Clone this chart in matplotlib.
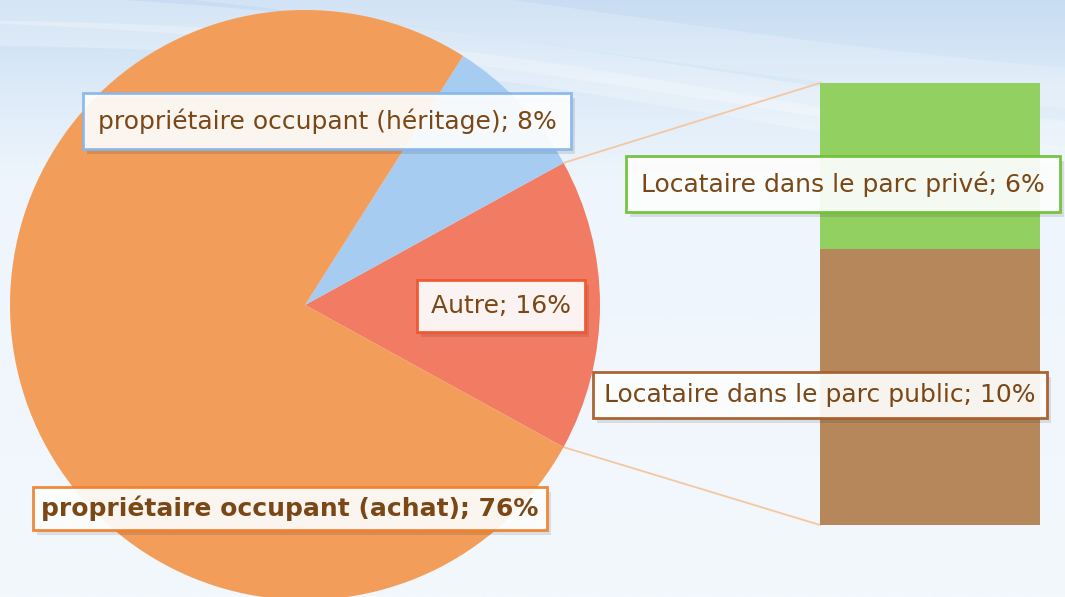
import numpy as np
import matplotlib
matplotlib.use('Agg')
import matplotlib.pyplot as plt
from matplotlib.colors import LinearSegmentedColormap

# pie data (Autre is exploded into the bar)
pie_labels = ["Autre", "propriétaire occupant (héritage)", "propriétaire occupant (achat)"]
pie_values = [16, 8, 76]
pie_colors = ["#F27C63", "#A7CCF1", "#F29D5A"]
pie_edges = ["#F0522A", "#86B6EC", "#F07F2A"]

bar_labels = ["Locataire dans le parc public", "Locataire dans le parc privé"]
bar_values = [10, 6]
bar_colors = ["#B5875A", "#93D062"]
bar_edges = ["#A35A22", "#6CC034"]

TEXT_COLOR = "#7A4716"
W, H = 1065, 597

fig = plt.figure(figsize=(W / 100, H / 100), dpi=100)
ax = fig.add_axes([0, 0, 1, 1])

# background: soft blue gradient with pale waves at the top
grad = np.linspace(0, 1, 300).reshape(-1, 1)
cmap = LinearSegmentedColormap.from_list(
    "bg", [(0, "#F3F8FD"), (0.7, "#EEF5FC"), (0.85, "#DDEBF8"), (1, "#C8DDF3")])
ax.imshow(grad, extent=[0, W, 0, H], origin='lower', cmap=cmap, aspect='auto', zorder=0)
xs = np.linspace(0, W, 200)
for off, amp, wdt, a in [(560, 20, 30, 0.25), (540, 25, 25, 0.25), (600, 15, 40, 0.2)]:
    y = off + amp * np.sin(xs / 300.0 + off / 80.0) - xs * 0.09
    ax.fill_between(xs, y, y + wdt, color="white", alpha=a, lw=0, zorder=0.5)

# pie
cx, cy, r = 305, 292, 295
start = -pie_values[0] / 100 * 360 / 2
ax.pie(pie_values, colors=pie_colors, startangle=start, radius=r,
       center=(cx, cy), frame=True, wedgeprops=dict(linewidth=0, zorder=2))
ax.set_xlim(0, W)
ax.set_ylim(0, H)
ax.set_aspect('equal')
ax.axis('off')

# stacked bar for the exploded slice
bar_x, bar_w = 930, 220
bar_bottom, bar_top = 72, 514
scale = (bar_top - bar_bottom) / sum(bar_values)
bottom = bar_bottom
for v, c in zip(bar_values, bar_colors):
    ax.bar(bar_x, v * scale, bar_w, bottom=bottom, color=c, lw=0, zorder=2)
    bottom += v * scale

# connector lines
theta = np.deg2rad(abs(start))
px = cx + r * np.cos(theta)
ax.plot([px, bar_x - bar_w / 2], [cy + r * np.sin(theta), bar_top], color="#F5C7A0", lw=1.3, zorder=1.5)
ax.plot([px, bar_x - bar_w / 2], [cy - r * np.sin(theta), bar_bottom], color="#F5C7A0", lw=1.3, zorder=1.5)


def label(x, y, text, edge, bold=False, pad=0.55):
    kw = dict(ha='center', va='center', fontsize=18, color=TEXT_COLOR, family=['DejaVu Sans'],
              fontweight='bold' if bold else 'normal')
    # soft shadow
    ax.text(x + 4, y - 5, text, alpha=0, zorder=4,
            bbox=dict(boxstyle=f'square,pad={pad}', fc='#000000', alpha=0.10, lw=0), **kw)
    ax.text(x, y, text, zorder=5,
            bbox=dict(boxstyle=f'square,pad={pad}', fc='white', ec=edge, lw=2, alpha=0.92), **kw)


label(327, H - 121, f"{pie_labels[1]}; {pie_values[1]}%", pie_edges[1], pad=0.6)
label(501, H - 306, f"{pie_labels[0]}; {pie_values[0]}%", pie_edges[0], pad=0.55)
label(290, H - 508, f"{pie_labels[2]}; {pie_values[2]}%", pie_edges[2], bold=True, pad=0.35)
label(843, H - 184, f"{bar_labels[1]}; {bar_values[1]}%", bar_edges[1], pad=0.6)
label(820, H - 395, f"{bar_labels[0]}; {bar_values[0]}%", bar_edges[0], pad=0.45)

fig.savefig("out.png", dpi=100)
